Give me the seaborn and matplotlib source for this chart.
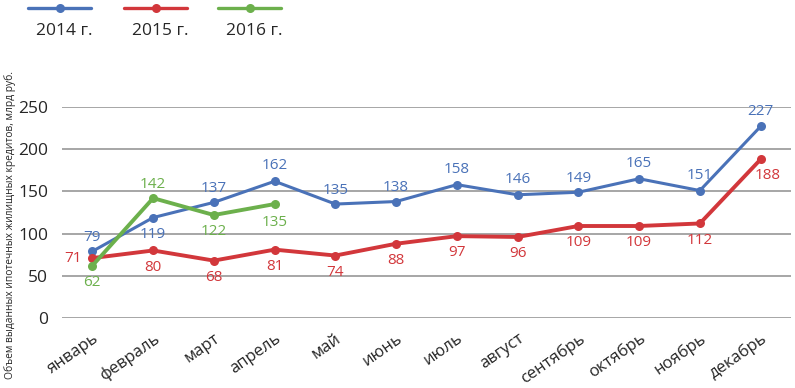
import numpy as np
import pandas as pd
import matplotlib
matplotlib.use('Agg')
import matplotlib.pyplot as plt
import seaborn as sns
from matplotlib.lines import Line2D

months = ['январь', 'февраль', 'март', 'апрель', 'май', 'июнь', 'июль',
          'август', 'сентябрь', 'октябрь', 'ноябрь', 'декабрь']
vals_2014 = [79, 119, 137, 162, 135, 138, 158, 146, 149, 165, 151, 227]
vals_2015 = [71, 80, 68, 81, 74, 88, 97, 96, 109, 109, 112, 188]
vals_2016 = [62, 142, 122, 135]
years = ['2014 г.', '2015 г.', '2016 г.']

# label placement: (dx, dy) offsets in points for each value label
off_2014 = [(0, 10), (0, -12), (0, 10), (0, 11), (0, 10), (0, 10), (0, 11), (0, 11), (0, 10), (0, 11), (0, 11), (0, 11)]
off_2015 = [(-14, 0), (0, -12), (0, -12), (0, -12), (0, -12), (0, -12), (0, -12), (0, -12), (0, -12), (0, -12), (0, -12), (5, -12)]
off_2016 = [(0, -12), (0, 10), (0, -12), (0, -13)]

colors = {'2014 г.': '#4a72b8', '2015 г.': '#d2373b', '2016 г.': '#6cb04c'}
widths = {'2014 г.': 2.2, '2015 г.': 2.8, '2016 г.': 2.8}

rows = []
for yr, vals in zip(years, [vals_2014, vals_2015, vals_2016]):
    for i, v in enumerate(vals):
        rows.append({'year': yr, 'x': i, 'val': v})
df = pd.DataFrame(rows)

sns.set_style('white')
plt.rcParams['font.family'] = ['Open Sans', 'DejaVu Sans']

fig = plt.figure(figsize=(7.95, 3.88), dpi=100)
ax = fig.add_axes([62 / 795, 1 - 318 / 388, 729 / 795, 211 / 388])

for yr in years:
    sub = df[df['year'] == yr]
    sns.lineplot(data=sub, x='x', y='val', ax=ax, color=colors[yr],
                 linewidth=widths[yr], marker='o', markersize=6.5,
                 markeredgewidth=0, legend=False, zorder=3)

for yr, vals, offs in [('2014 г.', vals_2014, off_2014),
                       ('2015 г.', vals_2015, off_2015),
                       ('2016 г.', vals_2016, off_2016)]:
    for i, (v, (dx, dy)) in enumerate(zip(vals, offs)):
        ax.annotate(str(v), (i, v), xytext=(dx, dy), textcoords='offset points',
                    ha='center', va='center', color=colors[yr], fontsize=11)

ax.set_xlim(-0.5, 11.5)
ax.set_ylim(0, 250)
ax.set_yticks([0, 50, 100, 150, 200, 250])
ax.set_xticks(range(len(months)))
ax.set_xticklabels(months, rotation=35, ha='right', rotation_mode='anchor')
ax.tick_params(axis='x', length=0, pad=9, labelsize=12)
ax.tick_params(axis='y', length=0, pad=10, labelsize=12.5)
ax.grid(axis='y', color='#a6a6a6', linewidth=1.4)
ax.grid(axis='x', visible=False)
ax.set_axisbelow(True)
for s in ax.spines.values():
    s.set_visible(False)
ax.set_xlabel('')
ax.set_ylabel('')

fig.text(0.013, 1 - 225 / 388, 'Объем выданных ипотечных жилищных кредитов, млрд руб.',
         rotation=90, ha='center', va='center', fontsize=7.4)

# legend: line with marker above, label below
for x0, yr in [(28, '2014 г.'), (124, '2015 г.'), (218, '2016 г.')]:
    fig.add_artist(Line2D([x0 / 795, (x0 + 63) / 795], [1 - 8 / 388] * 2,
                          color=colors[yr], linewidth=2.4))
    fig.add_artist(Line2D([(x0 + 31.5) / 795], [1 - 8 / 388], color=colors[yr],
                          marker='o', markersize=6.5, markeredgewidth=0))
    fig.text((x0 + 36) / 795, 1 - 31 / 388, yr, ha='center', va='center', fontsize=12.5)

fig.savefig('out.png', dpi=100)
